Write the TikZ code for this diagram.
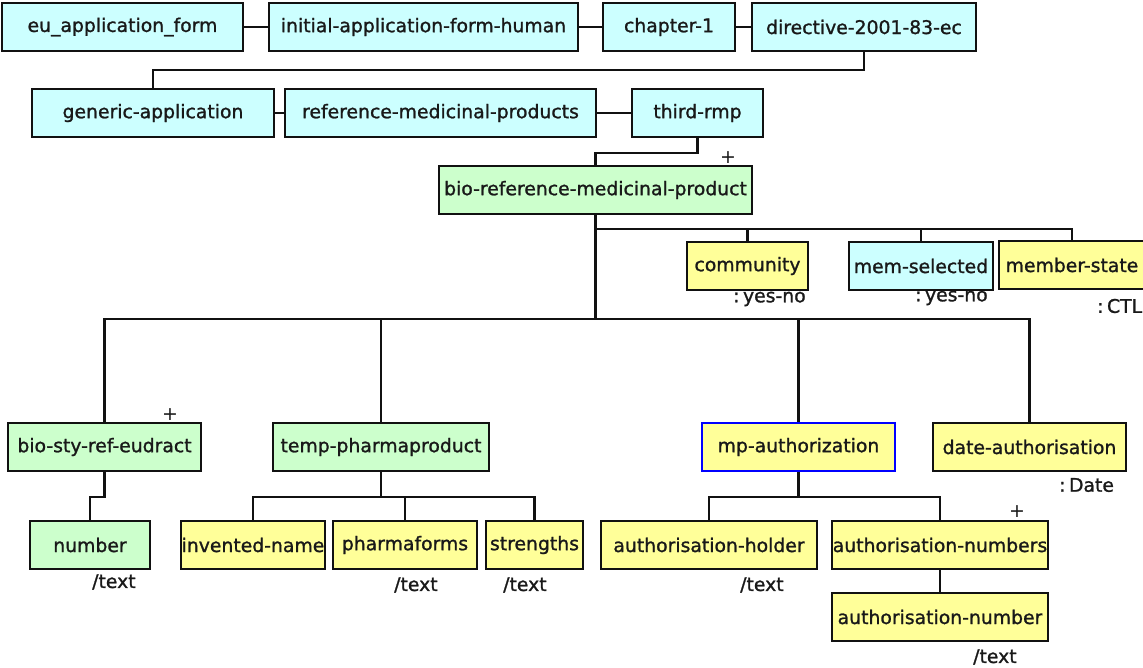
\documentclass[tikz,border=0pt]{standalone}
\usepackage{fontspec}
\setmainfont{DejaVu Sans}
\newfontfamily\boxfont{DejaVu Sans}[UprightFeatures={FakeBold=1.2}]
\usetikzlibrary{calc}

\definecolor{cyanfill}{HTML}{CCFFFF}
\definecolor{greenfill}{HTML}{CCFFCC}
\definecolor{yellowfill}{HTML}{FFFF99}
\definecolor{edge}{HTML}{111111}

\newcommand{\typegap}{\kern3.5pt}

\tikzset{
  box/.style={draw=edge, line width=2.4pt, rectangle, inner sep=0pt,
    minimum height=48pt, font=\boxfont\fontsize{18.8}{22}\selectfont, text=black!90},
  cyanbox/.style={box, fill=cyanfill},
  greenbox/.style={box, fill=greenfill},
  yellowbox/.style={box, fill=yellowfill},
  selbox/.style={box, fill=yellowfill, draw=blue},
  typenote/.style={inner sep=0pt, anchor=west, text=black!90,
    font=\boxfont\fontsize{18.8}{22}\selectfont},
  plusnote/.style={inner sep=0pt, text=black!90, font=\fontsize{19}{21}\selectfont},
  link/.style={draw=edge, line width=2.4pt}
}

\begin{document}
\begin{tikzpicture}[x=1pt, y=-1pt]
\useasboundingbox (0,0) rectangle (1143,668);

% path from the form down to the reference product
\node[cyanbox, minimum width=241] (eu) at (122.5,27) {eu\_application\_form};
\node[cyanbox, minimum width=309] (init) at (423.5,27) {initial-application-form-human};
\node[cyanbox, minimum width=132] (ch1) at (669,27) {chapter-1};
\node[cyanbox, minimum width=224] (dir) at (864,27) {directive-2001-83-ec};

\node[cyanbox, minimum width=242] (gen) at (153,113) {generic-application};
\node[cyanbox, minimum width=311] (refmp) at (440.5,113) {reference-medicinal-products};
\node[cyanbox, minimum width=131] (third) at (697.5,113) {third-rmp};

\node[greenbox, minimum width=313] (bioref) at (595.5,190) {bio-reference-medicinal-product};
\node[plusnote] (plusA) at (728,158) {+};

% attributes of the product
\node[yellowbox, minimum width=121] (comm) at (747.5,266) {community};
\node[cyanbox, minimum width=144] (memsel) at (921,266) {mem-selected};
\node[yellowbox, minimum width=146] (mstate) at (1072,265) {member-state};
\node[typenote] (tComm) at (733,299) {:\typegap yes-no};
\node[typenote] (tMem) at (915,298) {:\typegap yes-no};
\node[typenote] (tMs) at (1097,306) {:\typegap CTL};

% child elements
\node[greenbox, minimum width=193] (biosty) at (104.5,447) {bio-sty-ref-eudract};
\node[plusnote] (plusB) at (170,415) {+};
\node[greenbox, minimum width=216] (temp) at (381,447) {temp-pharmaproduct};
\node[selbox, minimum width=193] (mpauth) at (798.5,447) {mp-authorization};
\node[yellowbox, minimum width=193] (date) at (1029.5,447) {date-authorisation};
\node[typenote] (tDate) at (1059,485) {:\typegap Date};

\node[greenbox, minimum width=120] (number) at (90,545) {number};
\node[typenote] (tNum) at (92,582) {/text};
\node[yellowbox, minimum width=144] (invented) at (253,545) {invented-name};
\node[yellowbox, minimum width=144] (pharma) at (405,545) {pharmaforms};
\node[typenote] (tPharma) at (394,585) {/text};
\node[yellowbox, minimum width=97] (strengths) at (534.5,545) {strengths};
\node[typenote] (tStr) at (503,585) {/text};
\node[yellowbox, minimum width=216] (holder) at (709,545) {authorisation-holder};
\node[typenote] (tHold) at (740,585) {/text};
\node[yellowbox, minimum width=216] (nums) at (940,545) {authorisation-numbers};
\node[plusnote] (plusC) at (1017,512) {+};
\node[yellowbox, minimum width=216] (num) at (940,617) {authorisation-number};
\node[typenote] (tAn) at (973,657) {/text};

% connectors
\draw[link] (eu.east) -- (init.west);
\draw[link] (init.east) -- (ch1.west);
\draw[link] (ch1.east) -- (dir.west);
\draw[link] (dir.south) -- ++(0,18) -| (gen.north);
\draw[link] (gen.east) -- (refmp.west);
\draw[link] (refmp.east) -- (third.west);
\draw[link] (third.south) -- ++(0,15) -| (bioref.north);

\coordinate (busA) at ($(bioref.south)+(0,14)$);
\draw[link] (bioref.south) -- (busA) -| (mstate.north);
\draw[link] (comm.north) |- (busA);
\draw[link] (memsel.north) |- (busA);

\coordinate (busB) at ($(bioref.south)+(0,104)$);
\draw[link] (bioref.south) -- (busB);
\draw[link] (busB) -| (biosty.north);
\draw[link] (busB) -| (date.north);
\draw[link] (temp.north) |- (busB);
\draw[link] (mpauth.north) |- (busB);

\draw[link] (biosty.south) -- ++(0,25) -| (number.north);

\coordinate (busC) at ($(temp.south)+(0,25)$);
\draw[link] (temp.south) -- (busC) -| (invented.north);
\draw[link] (busC) -| (strengths.north);
\draw[link] (pharma.north) |- (busC);

\coordinate (busD) at ($(mpauth.south)+(0,25)$);
\draw[link] (mpauth.south) -- (busD) -| (holder.north);
\draw[link] (busD) -| (nums.north);

\draw[link] (nums.south) -- (num.north);
\end{tikzpicture}
\end{document}
